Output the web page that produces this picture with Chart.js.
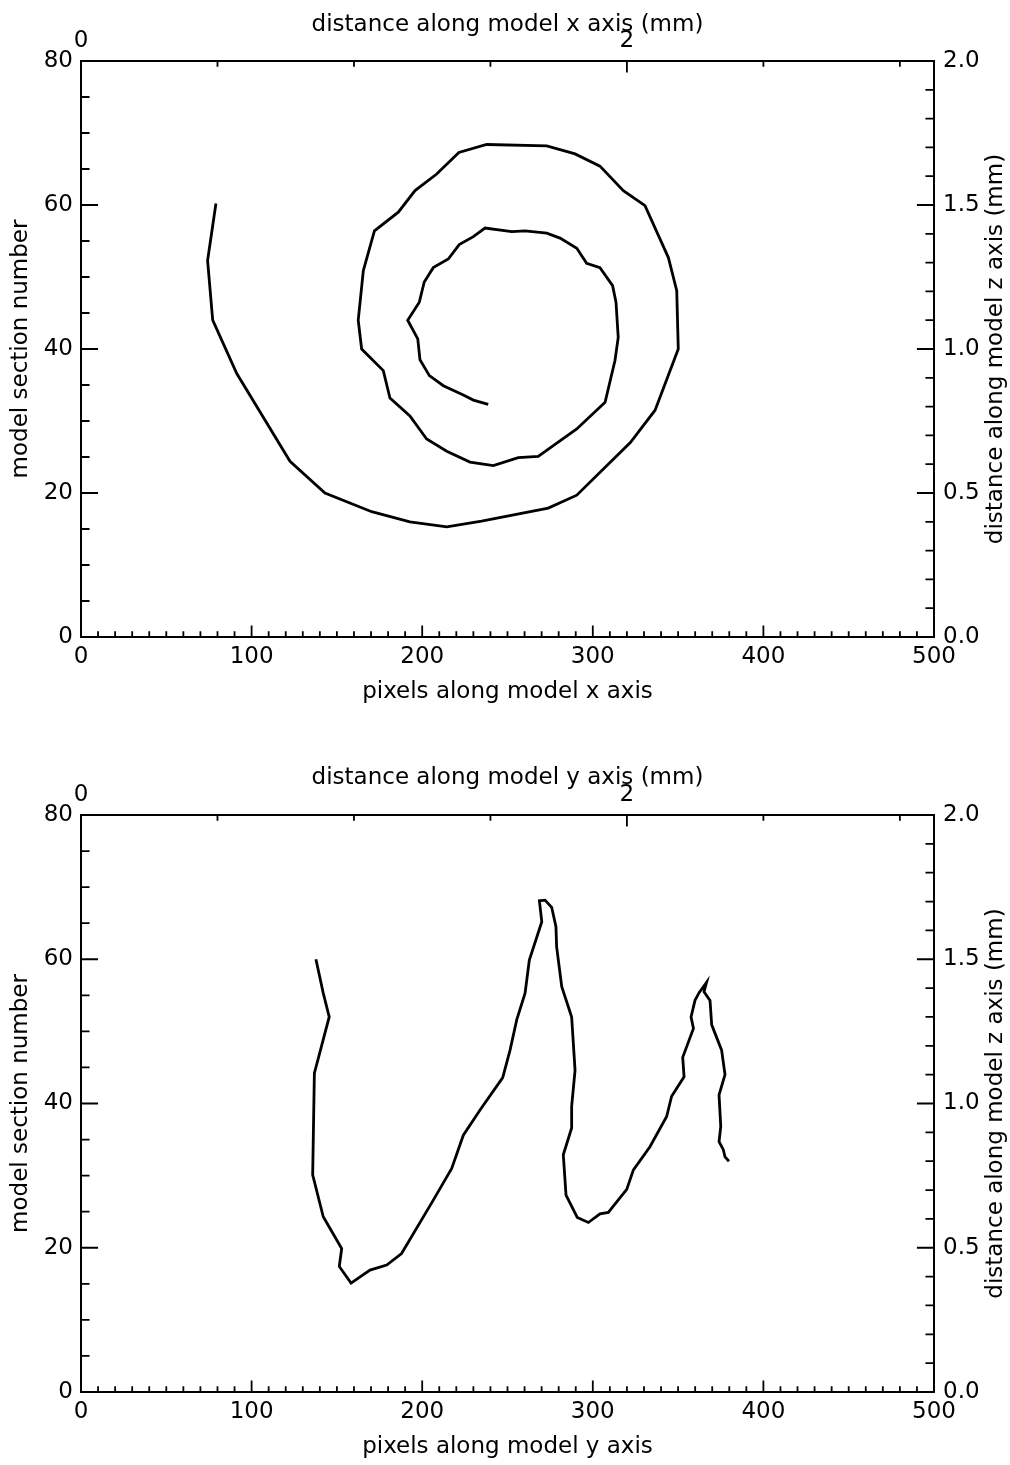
<!DOCTYPE html>
<html>
<head>
<meta charset="utf-8">
<title>model section tracks</title>
<script src="https://cdn.jsdelivr.net/npm/chart.js@4.4.1/dist/chart.umd.min.js"></script>
<style>
  html, body { margin: 0; padding: 0; background: #fff; }
  #wrap { position: relative; width: 1010px; height: 1465px; }
  .panel { position: absolute; left: 0; width: 1010px; }
  #panelX { top: 0; height: 732px; }
  #panelY { top: 732px; height: 733px; }
</style>
</head>
<body>
<div id="wrap">
  <div class="panel" id="panelX"><canvas id="chartX"></canvas></div>
  <div class="panel" id="panelY"><canvas id="chartY"></canvas></div>
</div>
<script>
// top panel: track seen along the model x axis (pixel, section number)
const xTrackPixel = [79.1, 74.2, 77.2, 91.3, 122.5, 143.0, 170.4, 192.8, 214.4, 234.8, 273.9, 290.6, 322.0,
  336.5, 350.1, 349.2, 344.3, 330.6, 317.9, 304.2, 289.6, 273.0, 237.8, 221.5, 208.5, 195.8, 186.0, 172.0,
  165.5, 162.5, 164.5, 177.2, 181.1, 192.8, 202.6, 214.4, 228.0, 241.7, 256.3, 268.0, 290.6, 307.2, 313.0,
  314.9, 313.6, 311.6, 304.2, 296.4, 290.6, 280.8, 273.0, 260.3, 252.5, 236.8, 230.0, 221.7, 215.3, 206.5,
  201.2, 198.3, 191.5, 197.4, 198.7, 204.2, 212.4, 224.1, 230.0, 238.7];
const xTrackSection = [60.2, 52.3, 44.0, 36.6, 24.4, 20.0, 17.4, 16.0, 15.3, 16.1, 17.9, 19.7, 27.0,
  31.5, 40.0, 48.1, 52.7, 59.9, 62.0, 65.4, 67.1, 68.2, 68.4, 67.3, 64.3, 62.0, 59.0, 56.4,
  50.9, 44.0, 40.0, 37.0, 33.2, 30.7, 27.5, 25.8, 24.3, 23.8, 24.9, 25.1, 28.9, 32.6, 38.4,
  41.6, 46.5, 48.8, 51.3, 51.9, 54.0, 55.4, 56.1, 56.4, 56.3, 56.8, 55.6, 54.5, 52.5, 51.3,
  49.3, 46.5, 44.0, 41.4, 38.5, 36.3, 34.9, 33.6, 32.9, 32.3];

// bottom panel: same track seen along the model y axis
const yTrackPixel = [137.7, 142.0, 145.5, 136.8, 135.8, 142.0, 152.8, 151.4, 158.3, 169.4, 179.2, 187.9,
  206.5, 217.3, 224.1, 233.9, 247.2, 251.5, 255.4, 260.3, 262.8, 270.1, 268.7, 272.0, 275.9, 278.4, 278.8,
  281.8, 287.6, 289.6, 287.6, 287.6, 282.7, 284.3, 290.9, 297.4, 304.2, 309.1, 319.9, 323.8, 333.5, 343.3,
  346.2, 353.5, 352.7, 359.0, 357.6, 359.9, 362.4, 366.7, 365.2, 368.7, 369.7, 375.5, 377.5, 374.0, 375.0,
  374.0, 376.5, 377.5, 379.8];
const yTrackSection = [60.0, 55.3, 52.0, 44.2, 30.1, 24.3, 19.9, 17.4, 15.1, 16.9, 17.6, 19.2,
  26.6, 31.0, 35.6, 39.1, 43.6, 47.4, 51.6, 55.3, 59.9, 65.2, 68.1, 68.2, 67.2, 64.5, 61.7,
  56.2, 52.0, 44.6, 39.6, 36.6, 32.9, 27.3, 24.2, 23.5, 24.7, 24.9, 28.1, 30.8, 34.0, 38.2,
  41.0, 43.7, 46.4, 50.4, 52.0, 54.3, 55.4, 56.8, 55.5, 54.3, 50.9, 47.4, 44.0, 41.2, 36.8,
  34.7, 33.6, 32.6, 32.0];

// axis ranges and tick labels
const pixelRange = [0, 500];
const sectionRange = [0, 80];
const mmTopRange = [0, 3.125];
const mmRightRange = [0, 2.0];
const pixelTicks = [0, 100, 200, 300, 400, 500];
const sectionTicks = [0, 20, 40, 60, 80];
const mmTopTicks = [0, 2];
const mmRightTicks = [0.0, 0.5, 1.0, 1.5, 2.0];
// minor tick steps
const pixelMinor = 10, sectionMinor = 5, mmTopMinor = 0.5, mmRightMinor = 0.1;

const FONT = { family: "'DejaVu Sans', sans-serif", size: 23 };

// IDL style ticks pointing into the plot
const inwardTicks = {
  id: 'inwardTicks',
  afterDatasetsDraw(chart) {
    const { ctx, chartArea: a, scales } = chart;
    const xLen = 0.02 * (a.bottom - a.top);
    const yLen = 0.02 * (a.right - a.left);
    ctx.save();
    ctx.strokeStyle = '#000';
    ctx.lineWidth = 1.8;
    ctx.beginPath();
    const run = (scale, majors, step, fn) => {
      const n = Math.round((scale.max - scale.min) / step);
      for (let k = 0; k <= n; k++) {
        const v = scale.min + k * step;
        const isMajor = majors.some(m => Math.abs(m - v) < 1e-6);
        fn(scale.getPixelForValue(v), isMajor);
      }
    };
    run(scales.x, pixelTicks, pixelMinor, (p, maj) => {
      ctx.moveTo(p, a.bottom); ctx.lineTo(p, a.bottom - (maj ? xLen : xLen / 2));
    });
    run(scales.x2, mmTopTicks, mmTopMinor, (p, maj) => {
      ctx.moveTo(p, a.top); ctx.lineTo(p, a.top + (maj ? xLen : xLen / 2));
    });
    run(scales.y, sectionTicks, sectionMinor, (p, maj) => {
      ctx.moveTo(a.left, p); ctx.lineTo(a.left + (maj ? yLen : yLen / 2), p);
    });
    run(scales.y2, mmRightTicks, mmRightMinor, (p, maj) => {
      ctx.moveTo(a.right, p); ctx.lineTo(a.right - (maj ? yLen : yLen / 2), p);
    });
    ctx.stroke();

    // right axis title reads bottom to top
    const t = chart.options.plugins.inwardTicks.rightTitle;
    ctx.fillStyle = '#000';
    ctx.font = FONT.size + 'px ' + FONT.family;
    ctx.textAlign = 'center';
    ctx.textBaseline = 'middle';
    ctx.translate(996, (a.top + a.bottom) / 2);
    ctx.rotate(-Math.PI / 2);
    ctx.fillText(t, 0, 0);
    ctx.restore();
  }
};

function fixed(size, dim) {
  return function (scale) { scale[dim] = size; };
}

function setTicks(list) {
  return function (scale) { scale.ticks = list.map(v => ({ value: v })); };
}

function makeChart(id, px, sec, axisName, sizes) {
  const pts = px.map((x, i) => ({ x: x, y: sec[i] }));
  const axisBase = {
    type: 'linear',
    grid: { display: true, drawOnChartArea: false, drawTicks: false },
    border: { display: true, color: '#000', width: 2 },
    ticks: { color: '#000', font: FONT, padding: 6, maxRotation: 0, autoSkip: false }
  };
  return new Chart(document.getElementById(id), {
    type: 'scatter',
    data: {
      datasets: [{
        data: pts,
        showLine: true,
        borderColor: '#000',
        borderWidth: 2.8,
        pointRadius: 0,
        tension: 0
      }]
    },
    options: {
      responsive: true,
      maintainAspectRatio: false,
      animation: false,
      layout: { padding: 0 },
      plugins: {
        legend: { display: false },
        tooltip: { enabled: false },
        inwardTicks: { rightTitle: 'distance along model z axis (mm)' }
      },
      scales: {
        x: Object.assign({}, axisBase, {
          position: 'bottom', min: pixelRange[0], max: pixelRange[1],
          afterBuildTicks: setTicks(pixelTicks),
          afterFit: fixed(sizes.bottom, 'height'),
          title: { display: true, text: 'pixels along model ' + axisName + ' axis', color: '#000', font: FONT,
                   padding: { top: 0, bottom: sizes.bottomTitlePad } }
        }),
        x2: Object.assign({}, axisBase, {
          position: 'top', min: mmTopRange[0], max: mmTopRange[1],
          afterBuildTicks: setTicks(mmTopTicks),
          afterFit: fixed(sizes.top, 'height'),
          ticks: Object.assign({}, axisBase.ticks, { callback: v => String(v) }),
          title: { display: true, text: 'distance along model ' + axisName + ' axis (mm)', color: '#000', font: FONT,
                   padding: { top: sizes.topTitlePad, bottom: 0 } }
        }),
        y: Object.assign({}, axisBase, {
          position: 'left', min: sectionRange[0], max: sectionRange[1],
          afterBuildTicks: setTicks(sectionTicks),
          afterFit: fixed(81, 'width'),
          ticks: Object.assign({}, axisBase.ticks, { padding: 8 }),
          title: { display: true, text: 'model section number', color: '#000', font: FONT,
                   padding: { top: 7, bottom: 0 } }
        }),
        y2: Object.assign({}, axisBase, {
          position: 'right', min: mmRightRange[0], max: mmRightRange[1],
          afterBuildTicks: setTicks(mmRightTicks),
          afterFit: fixed(76, 'width'),
          ticks: Object.assign({}, axisBase.ticks, { padding: 9, callback: v => v.toFixed(1) })
        })
      }
    },
    plugins: [inwardTicks]
  });
}

makeChart('chartX', xTrackPixel, xTrackSection, 'x',
  { top: 61, bottom: 95, topTitlePad: 11, bottomTitlePad: 26 });
makeChart('chartY', yTrackPixel, yTrackSection, 'y',
  { top: 83, bottom: 73, topTitlePad: 32, bottomTitlePad: 4 });
</script>
</body>
</html>
